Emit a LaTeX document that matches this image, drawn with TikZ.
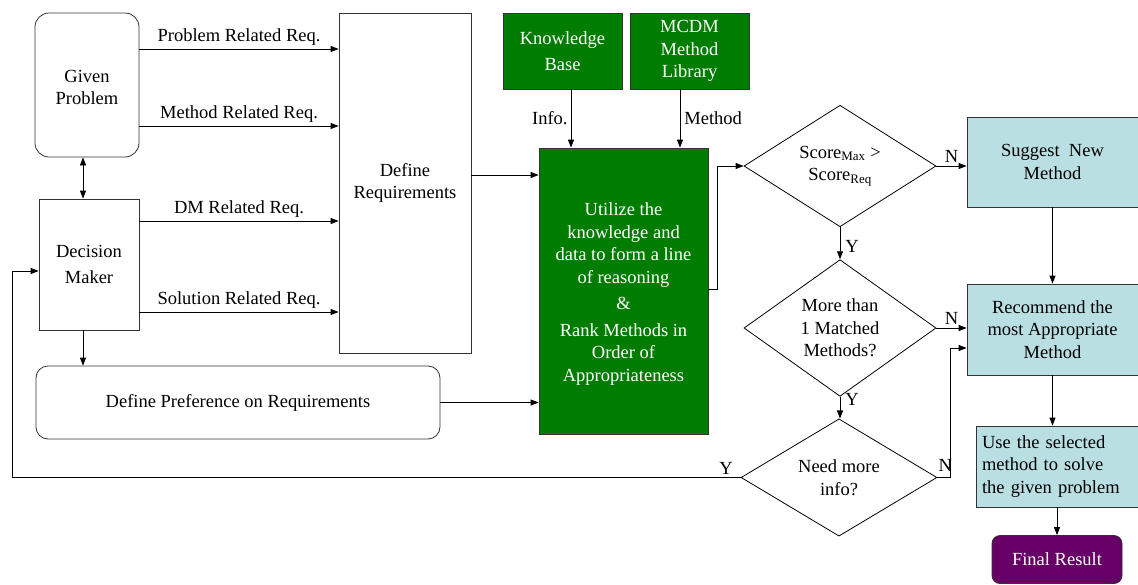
\documentclass[tikz,border=0pt]{standalone}
\usepackage{fontspec}
\setmainfont{Liberation Serif}
\usetikzlibrary{arrows.meta,shapes.geometric,positioning}
\definecolor{kgreen}{HTML}{007D00}
\definecolor{lblue}{HTML}{BADFE3}
\definecolor{dpurple}{HTML}{660066}
\definecolor{edge}{HTML}{333333}
\begin{document}
\begin{tikzpicture}[x=1pt,y=-1pt,
  every node/.style={font=\fontsize{18.5}{22.5}\selectfont, inner sep=0pt},
  box/.style={draw=edge, line width=0.8pt, align=center},
  rbox/.style={box, rounded corners=14pt},
  gbox/.style={box, fill=kgreen, text=white},
  bbox/.style={box, fill=lblue},
  dia/.style={diamond, draw=black, line width=0.8pt, align=center, inner sep=0pt},
  arr/.style={draw=black, line width=0.8pt, -{Triangle[length=8pt,width=6pt]}},
  lab/.style={inner sep=3pt}
]
\useasboundingbox (0,0) rectangle (1138,584);
\coordinate (fb) at (12,0);

% left column
\node[rbox, minimum width=104pt, minimum height=144pt] (gp) at (87,85) {\rule{0pt}{17pt}Given\\Problem};
\node[box, minimum width=100pt, minimum height=131pt] (dm) at (89,264.5) {Decision\\[4pt]Maker};
\node[box, minimum width=132pt, minimum height=340pt] (dr) at (405,183) {Define\\Requirements};
\node[rbox, rounded corners=12pt, minimum width=404pt, minimum height=73pt] (dp) at (238,402.5) {Define Preference on Requirements};

% green
\node[gbox, minimum width=119pt, minimum height=76pt] (kb) at (562.5,51) {Knowledge\\[4pt]Base};
\node[gbox, minimum width=119pt, minimum height=76pt] (lib) at (689.5,51) {MCDM\\Method\\Library};
\node[gbox, minimum width=169pt, minimum height=286pt] (main) at (623.5,291)
  {\rule{0pt}{19pt}Utilize the\\knowledge and\\data to form a line\\of reasoning\\[4pt]\&\\[4pt]Rank Methods in\\Order of\\Appropriateness};

% diamonds
\node[dia, minimum width=192pt, minimum height=106pt] (d1) at (840,166)
  {Score\textsubscript{Max} >\\Score\textsubscript{Req}};
\node[dia, minimum width=192pt, minimum height=104pt] (d2) at (840,328)
  {More than\\1 Matched\\Methods?};
\node[dia, minimum width=196pt, minimum height=103pt] (d3) at (839,477.5)
  {Need more\\info?};

% blue boxes
\node[bbox, minimum width=171pt, minimum height=90pt] (sg) at (1052.5,162) {Suggest\ \ New\\Method};
\node[bbox, minimum width=171pt, minimum height=91pt] (rec) at (1052.5,329.5) {Recommend the\\most Appropriate\\Method};
\node[bbox, minimum width=162pt, minimum height=81pt, align=left, text width=150pt] (use) at (1057,466.5)
  {Use the selected\\method to solve\\the given problem};
\node[box, rounded corners=8pt, fill=dpurple, text=white, minimum width=130pt, minimum height=48pt] (fin) at (1057,559.5) {Final Result};

% connectors, left part
\draw[line width=0.8pt, {Triangle[length=8pt,width=6pt]}-{Triangle[length=8pt,width=6pt]}]
  ([xshift=-4pt]gp.south) -- ([xshift=-4pt]gp.south |- dm.north);
\draw[arr] ([yshift=36pt]gp.east) -- node[above, lab]{Problem Related Req.} ([yshift=36pt]gp.east -| dr.west);
\draw[arr] ([yshift=-41pt]gp.east) -- node[above, lab]{Method Related Req.} ([yshift=-41pt]gp.east -| dr.west);
\draw[arr] ([yshift=43.5pt]dm.east) -- node[above, lab]{DM Related Req.} ([yshift=43.5pt]dm.east -| dr.west);
\draw[arr] ([yshift=-47.5pt]dm.east) -- node[above, lab]{Solution Related Req.} ([yshift=-47.5pt]dm.east -| dr.west);
\draw[arr] ([xshift=-6pt]dm.south) -- ([xshift=-6pt]dm.south |- dp.north);
\draw[arr] ([yshift=8pt]dr.east) -- ([yshift=8pt]dr.east -| main.west);
\draw[arr] (dp.east) -- (dp.east -| main.west);
\draw[arr] ([xshift=8.5pt]kb.south) -- node[left, lab]{Info.} ([xshift=8.5pt]kb.south |- main.north);
\draw[arr] ([xshift=-9.5pt]lib.south) -- node[right, lab, xshift=1pt]{Method} ([xshift=-9.5pt]lib.south |- main.north);

% right part
\draw[arr] ([yshift=2pt]main.east) -- ++(9pt,0) |- (d1.west);
\draw[arr] (d1.east) -- node[above, lab]{N} (d1.east -| sg.west);
\draw[arr] (d1.south) -- node[right, lab, xshift=2pt, pos=0.6]{Y} (d2.north);
\draw[arr] (d2.east) -- node[above, lab]{N} (d2.east -| rec.west);
\draw[arr] (d2.south) -- node[right, lab, xshift=2pt, yshift=8pt]{Y} (d2.south |- d3.north);
\draw[arr] (d3.east) -- ++(13pt,0) node[above left, lab, inner sep=2pt, xshift=4pt, yshift=4pt]{N} |- ([yshift=-18.5pt]rec.west);
\draw[arr] (d3.west) -- node[above, lab, pos=0.02]{Y} (d3.west -| fb) |- ([yshift=-6.5pt]dm.west);
\draw[arr] (sg.south) -- (sg.south |- rec.north);
\draw[arr] (rec.south) -- (rec.south |- use.north);
\draw[arr] (use.south) -- (use.south |- fin.north);
\end{tikzpicture}
\end{document}
